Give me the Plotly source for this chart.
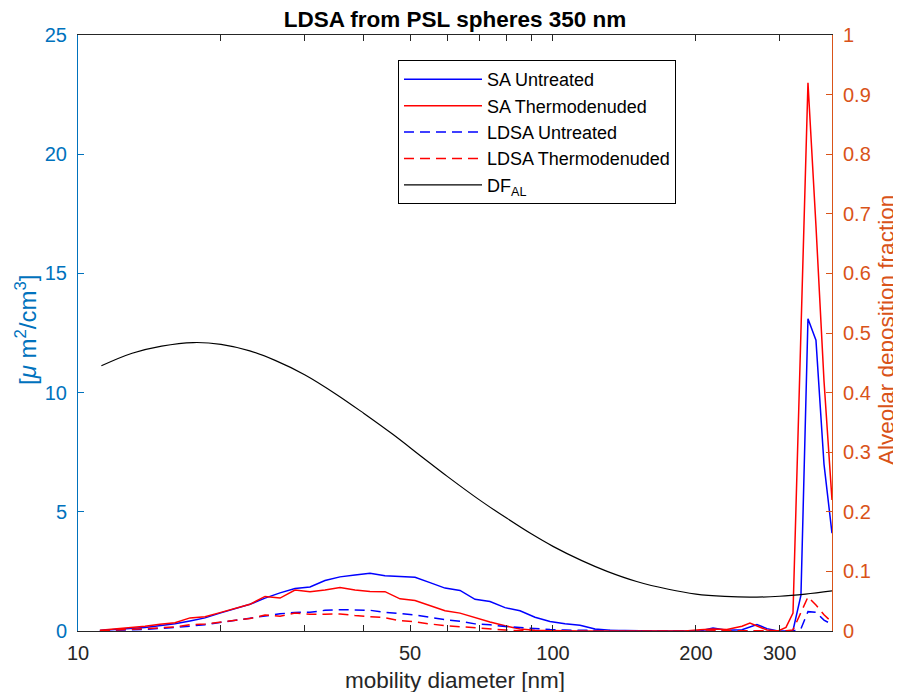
import plotly.graph_objects as go

# mobility diameter grid [nm]
diam = [11.12, 11.97, 12.87, 13.84, 14.88, 16.00, 17.21, 18.51, 19.90, 21.41,
        23.02, 24.76, 26.63, 28.63, 30.79, 33.11, 35.61, 38.30, 41.19, 44.29,
        47.63, 51.23, 55.09, 59.25, 63.72, 68.52, 73.69, 79.25, 85.23, 91.65,
        98.56, 105.99, 113.99, 122.59, 131.83, 141.77, 152.47, 163.96, 176.33, 189.63,
        203.93, 217.2, 232.4, 250.0, 259.8, 268.8, 282.2, 297.7, 309.4, 320.1,
        332.7, 344.2, 357.8, 372.0, 386.7]

sa_untreated = [0.02, 0.05, 0.10, 0.15, 0.22, 0.30, 0.42, 0.55, 0.75, 0.95,
                1.12, 1.38, 1.60, 1.78, 1.85, 2.12, 2.27, 2.35, 2.42, 2.32,
                2.28, 2.25, 2.03, 1.80, 1.70, 1.33, 1.24, 0.98, 0.85, 0.58,
                0.40, 0.30, 0.24, 0.08, 0.03, 0.01, 0.0, 0.0, 0.0, 0.01,
                0.0, 0.13, 0.03, 0.05, 0.18, 0.27, 0.10, 0.0, 0.0, 0.02,
                1.5, 13.1, 12.2, 7.0, 4.1]

sa_thermo = [0.03, 0.08, 0.15, 0.20, 0.28, 0.35, 0.55, 0.60, 0.77, 0.95,
             1.12, 1.45, 1.38, 1.72, 1.65, 1.72, 1.82, 1.72, 1.66, 1.65,
             1.35, 1.28, 1.05, 0.85, 0.75, 0.56, 0.38, 0.22, 0.08, 0.03,
             0.01, 0.0, 0.0, 0.0, 0.0, 0.0, 0.0, 0.0, 0.0, 0.0,
             0.05, 0.08, 0.06, 0.20, 0.33, 0.20, 0.04, 0.0, 0.15, 0.75,
             12.5, 23.0, 17.0, 10.5, 5.5]

ldsa_untreated = [0.009, 0.023, 0.047, 0.071, 0.105, 0.144, 0.203, 0.266, 0.361, 0.452,
                  0.526, 0.636, 0.720, 0.780, 0.784, 0.867, 0.892, 0.884, 0.869, 0.786,
                  0.732, 0.675, 0.572, 0.472, 0.413, 0.299, 0.257, 0.186, 0.149, 0.092,
                  0.058, 0.039, 0.029, 0.009, 0.003, 0.001, 0.0, 0.0, 0.0, 0.001,
                  0.0, 0.008, 0.002, 0.003, 0.010, 0.015, 0.006, 0.0, 0.0, 0.001,
                  0.092, 0.812, 0.781, 0.455, 0.275]

ldsa_thermo = [0.013, 0.036, 0.070, 0.094, 0.134, 0.168, 0.266, 0.290, 0.370, 0.452,
               0.526, 0.668, 0.621, 0.753, 0.700, 0.703, 0.715, 0.647, 0.596, 0.559,
               0.433, 0.384, 0.296, 0.223, 0.182, 0.126, 0.079, 0.042, 0.014, 0.005,
               0.001, 0.0, 0.0, 0.0, 0.0, 0.0, 0.0, 0.0, 0.0, 0.0,
               0.003, 0.005, 0.003, 0.011, 0.019, 0.011, 0.002, 0.0, 0.009, 0.045,
               0.763, 1.426, 1.088, 0.683, 0.369]

# alveolar deposition fraction curve
df_diam = [11.2, 13, 15, 17.5, 20, 23, 26, 30, 35, 40, 46, 53, 60, 70, 80, 90,
           100, 115, 130, 150, 175, 200, 230, 260, 300, 340, 386.7]
df_al = [0.445, 0.466, 0.478, 0.484, 0.481, 0.470, 0.454, 0.430, 0.397, 0.365,
         0.330, 0.292, 0.259, 0.220, 0.189, 0.163, 0.142, 0.118, 0.100, 0.083,
         0.070, 0.062, 0.058, 0.0567, 0.0583, 0.0619, 0.0672]

x_tickvals = [10, 20, 30, 40, 50, 60, 70, 80, 90, 100, 200, 300]
x_ticktext = ["10", "", "", "", "50", "", "", "", "", "100", "200", "300"]

BLUE_AX = "#0072BD"
ORANGE_AX = "#D95319"
DARK = "#262626"
FONT = "Liberation Sans, Arial, sans-serif"
DASH = "10px,6px"

fig = go.Figure()
fig.add_trace(go.Scatter(x=diam, y=sa_untreated, mode="lines", name="SA Untreated",
                         line=dict(color="#0000FF", width=1.5)))
fig.add_trace(go.Scatter(x=diam, y=sa_thermo, mode="lines", name="SA Thermodenuded",
                         line=dict(color="#FF0000", width=1.5)))
fig.add_trace(go.Scatter(x=diam, y=ldsa_untreated, mode="lines", name="LDSA Untreated",
                         line=dict(color="#0000FF", width=1.5, dash=DASH)))
fig.add_trace(go.Scatter(x=diam, y=ldsa_thermo, mode="lines", name="LDSA Thermodenuded",
                         line=dict(color="#FF0000", width=1.5, dash=DASH)))
fig.add_trace(go.Scatter(x=df_diam, y=df_al, mode="lines", name="DF<sub>AL</sub>",
                         line=dict(color="#000000", width=1.2, shape="spline"),
                         yaxis="y2"))

fig.update_layout(
    width=893, height=684,
    margin=dict(l=70, r=69, t=27, b=61, autoexpand=False),
    paper_bgcolor="white", plot_bgcolor="white",
    font=dict(family=FONT, size=20, color=DARK),
    title=dict(text="<b>LDSA from PSL spheres 350 nm</b>", x=0.5, xref="paper",
               xanchor="center", y=1 - 11 / 684, yanchor="middle", yref="container",
               font=dict(size=22.5, color="#000000")),
    xaxis=dict(type="log", range=[1, 2.5874], tickvals=x_tickvals, ticktext=x_ticktext,
               ticks="inside", ticklen=6, tickcolor=DARK, showline=True, linecolor=DARK,
               linewidth=1, mirror="ticks", showgrid=False, zeroline=False, automargin=False,
               tickfont=dict(size=20, color=DARK), ticklabelstandoff=4),
    yaxis=dict(range=[0, 25], tickvals=[0, 5, 10, 15, 20, 25], ticks="inside", ticklen=6,
               tickcolor=BLUE_AX, showline=True, linecolor=BLUE_AX, linewidth=1,
               showgrid=False, zeroline=False, automargin=False,
               tickfont=dict(size=20, color=BLUE_AX), ticklabelstandoff=6),
    yaxis2=dict(range=[0, 1], tickvals=[0, 0.1, 0.2, 0.3, 0.4, 0.5, 0.6, 0.7, 0.8, 0.9, 1],
                ticktext=["0", "0.1", "0.2", "0.3", "0.4", "0.5", "0.6", "0.7", "0.8", "0.9", "1"],
                overlaying="y", side="right", ticks="inside", ticklen=6,
                tickcolor=ORANGE_AX, showline=True, linecolor=ORANGE_AX, linewidth=1,
                showgrid=False, zeroline=False, automargin=False,
                tickfont=dict(size=20, color=ORANGE_AX), ticklabelstandoff=6),
    legend=dict(x=0.4244, y=0.958, xanchor="left", yanchor="top",
                bgcolor="white", bordercolor="#000000", borderwidth=1,
                font=dict(size=18, color="#000000"), itemwidth=78,
                tracegroupgap=0),
    showlegend=True,
    annotations=[
        dict(text="[<i>μ</i> m<sup>2</sup>/cm<sup>3</sup>]", xref="paper", yref="paper",
             x=-(70 - 18) / 754, y=(631 - 330) / 596, xanchor="center", yanchor="middle",
             textangle=-90, showarrow=False, font=dict(size=24, color=BLUE_AX)),
        dict(text="Alveolar deposition fraction", xref="paper", yref="paper",
             x=1 + (886 - 832) / 754, y=(631 - 330) / 596, xanchor="center", yanchor="middle",
             textangle=-90, showarrow=False, font=dict(size=22.5, color=ORANGE_AX)),
        dict(text="mobility diameter [nm]", xref="paper", yref="paper",
             x=0.5, y=-(680 - 631) / 596, xanchor="center", yanchor="middle",
             showarrow=False, font=dict(size=22.5, color=DARK)),
    ],
)

fig.write_html("out.html")
